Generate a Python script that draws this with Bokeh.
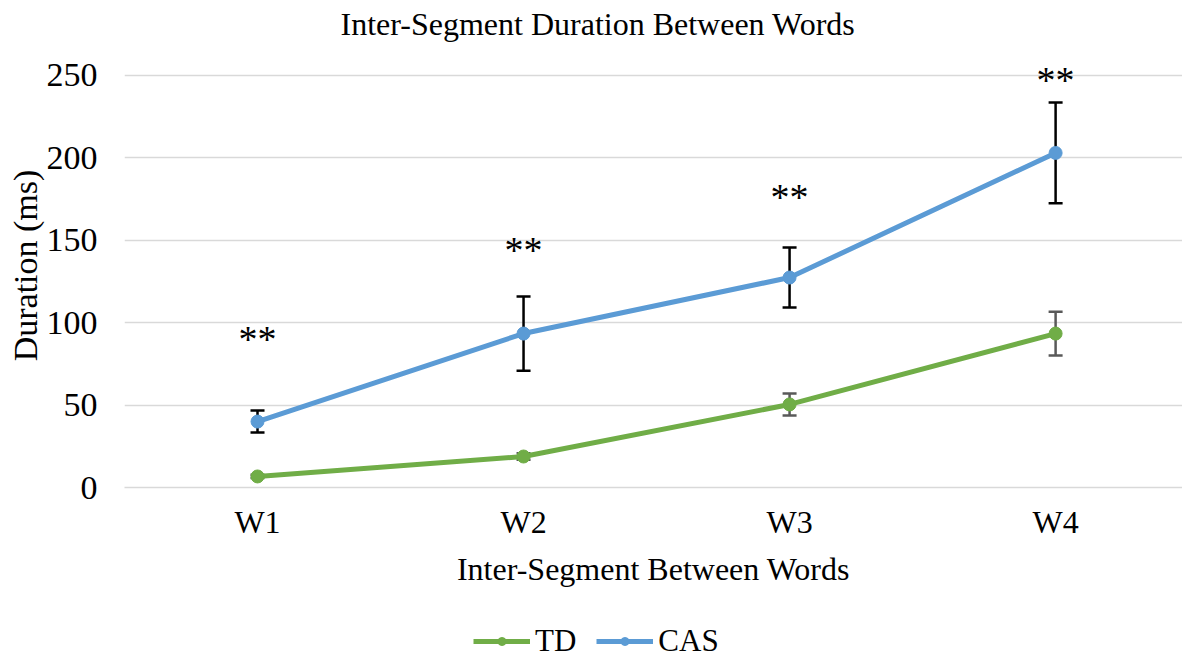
from bokeh.plotting import figure
from bokeh.layouts import column
from bokeh.models import (Range1d, FixedTicker, Legend, LegendItem, Whisker,
                          ColumnDataSource, LabelSet)
from bokeh.embed import file_html
from bokeh.resources import INLINE

categories = ["W1", "W2", "W3", "W4"]
td_mean = [6.7, 18.8, 50.4, 93.4]
td_err = [1.0, 2.0, 6.7, 13.3]
cas_mean = [40.0, 93.4, 127.4, 203.0]
cas_err = [6.7, 22.5, 18.2, 30.6]
sig_labels = ["**", "**", "**", "**"]
sig_y = [90.4, 144.4, 176.0, 247.0]
series_names = ["TD", "CAS"]

x = list(range(1, len(categories) + 1))
FONT = "Liberation Serif"
GREEN = "#70AD47"
BLUE = "#5B9BD5"

p = figure(frame_width=1058, frame_height=444, output_backend="svg", toolbar_location=None,
           x_range=Range1d(0.5, 4.477), y_range=Range1d(0, 269.4),
           min_border_left=124, min_border_right=0, min_border_top=43, min_border_bottom=112)
p.outline_line_color = None
p.background_fill_color = "white"
p.border_fill_color = "white"

p.title.text = "Inter-Segment Duration Between Words"
p.title.align = "left"
p.title.offset = 216
p.title.text_font = FONT
p.title.text_font_style = "normal"
p.title.text_font_size = "32px"
p.title.text_color = "black"
p.title.standoff = 4

p.xaxis.ticker = FixedTicker(ticks=x)
p.xaxis.major_label_overrides = {xi: c for xi, c in zip(x, categories)}
p.yaxis.ticker = FixedTicker(ticks=[0, 50, 100, 150, 200, 250])
for ax in (p.xaxis, p.yaxis):
    ax.major_label_text_font = FONT
    ax.major_label_text_color = "black"
    ax.axis_label_text_font = FONT
    ax.axis_label_text_font_style = "normal"
    ax.axis_label_text_color = "black"
    ax.major_tick_line_color = None
    ax.minor_tick_line_color = None
p.xaxis.major_label_text_font_size = "32px"
p.yaxis.major_label_text_font_size = "34px"
p.xaxis.axis_label_text_font_size = "32px"
p.yaxis.axis_label_text_font_size = "34px"
p.yaxis.axis_line_color = None
p.xaxis.axis_line_color = "#d9d9d9"
p.xaxis.axis_line_width = 1.5
p.xaxis.axis_label = "Inter-Segment Between Words"
p.yaxis.axis_label = "Duration (ms)"
p.xaxis.major_label_standoff = 10
p.xaxis.axis_label_standoff = 8
p.yaxis.major_label_standoff = 21
p.yaxis.axis_label_standoff = 0
p.xgrid.grid_line_color = None
p.ygrid.grid_line_color = "#d9d9d9"
p.ygrid.grid_line_width = 1.5

td_src = ColumnDataSource(dict(x=x, y=td_mean,
                               lo=[m - e for m, e in zip(td_mean, td_err)],
                               hi=[m + e for m, e in zip(td_mean, td_err)]))
cas_src = ColumnDataSource(dict(x=x, y=cas_mean,
                                lo=[m - e for m, e in zip(cas_mean, cas_err)],
                                hi=[m + e for m, e in zip(cas_mean, cas_err)]))

p.line("x", "y", source=td_src, line_color=GREEN, line_width=5)
p.scatter("x", "y", source=td_src, size=13, fill_color=GREEN, line_color=GREEN)
p.line("x", "y", source=cas_src, line_color=BLUE, line_width=5)
p.scatter("x", "y", source=cas_src, size=13, fill_color=BLUE, line_color=BLUE)

def whisker(src, color):
    w = Whisker(source=src, base="x", lower="lo", upper="hi", line_color=color, line_width=2.5)
    for h in (w.upper_head, w.lower_head):
        h.size = 14
        h.line_color = color
        h.line_width = 2.5
    p.add_layout(w)

whisker(td_src, "#595959")
whisker(cas_src, "black")

sig_src = ColumnDataSource(dict(x=x, y=sig_y, t=sig_labels))
p.add_layout(LabelSet(x="x", y="y", text="t", source=sig_src, text_align="center",
                      text_baseline="middle", text_font=FONT, text_font_size="38px",
                      text_color="black"))

# legend strip below the chart (proxy renderers sit outside the visible range)
lg = figure(width=1182, height=60, output_backend="svg", toolbar_location=None,
            x_range=Range1d(0, 1), y_range=Range1d(0, 1),
            x_axis_type=None, y_axis_type=None,
            min_border_left=0, min_border_right=0, min_border_top=0, min_border_bottom=0)
lg.outline_line_color = None
lg.xgrid.visible = False
lg.ygrid.visible = False
items = []
for name, color in zip(series_names, [GREEN, BLUE]):
    r1 = lg.line(x=[5, 6], y=[5, 6], line_color=color, line_width=5)
    r2 = lg.scatter(x=[5], y=[5], size=13, fill_color=color, line_color=color)
    items.append(LegendItem(label=name, renderers=[r1, r2]))
legend = Legend(items=items, orientation="horizontal", location=(349, 0),
                label_text_font=FONT, label_text_font_size="31px", label_text_color="black",
                glyph_width=57, glyph_height=20, spacing=20, label_standoff=5,
                border_line_color=None, background_fill_alpha=0, padding=2, margin=0)
lg.add_layout(legend)

layout = column(p, lg, spacing=0)
open("out.html", "w").write(file_html(layout, INLINE))
